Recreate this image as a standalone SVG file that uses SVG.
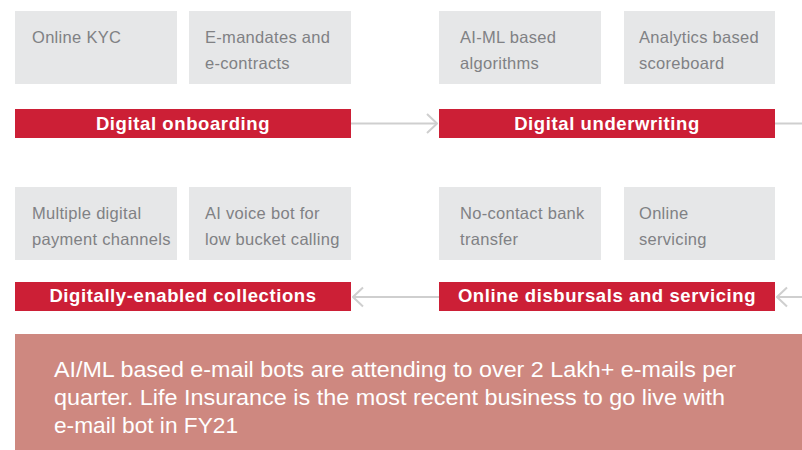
<svg xmlns="http://www.w3.org/2000/svg" width="802" height="450" viewBox="0 0 802 450">
  <style>
    .box { fill: #e6e7e8; }
    .box-text { font-family: "Liberation Sans", Arial, sans-serif; font-size: 16.5px; letter-spacing: 0.3px; fill: #808184; }
    .bar { fill: #cc1f36; }
    .bar-text { font-family: "Liberation Sans", Arial, sans-serif; font-size: 18.5px; font-weight: bold; fill: #ffffff; text-anchor: middle; letter-spacing: 0.6px; }
    .link { stroke: #cfcfcf; stroke-width: 2; fill: none; }
    .note { fill: #ce8880; }
    .note-text { font-family: "Liberation Sans", Arial, sans-serif; font-size: 22.5px; fill: #ffffff; }
  </style>
  <defs>
    <marker id="chev" viewBox="0 0 12 22" refX="11" refY="11" markerWidth="12" markerHeight="22" markerUnits="userSpaceOnUse" orient="auto">
      <path d="M1,1.5 L11,11 L1,20.5" fill="none" stroke="#cfcfcf" stroke-width="2"/>
    </marker>
  </defs>

  <rect width="802" height="450" fill="#ffffff"/>

  <!-- connectors between stages -->
  <g id="connectors">
    <line class="link" x1="351" y1="123.5" x2="437" y2="123.5" marker-end="url(#chev)"/>
    <line class="link" x1="775" y1="123.5" x2="802" y2="123.5"/>
    <line class="link" x1="802" y1="297" x2="777" y2="297" marker-end="url(#chev)"/>
    <line class="link" x1="439" y1="297" x2="353" y2="297" marker-end="url(#chev)"/>
  </g>

  <!-- stage 1 -->
  <g id="online-kyc">
    <rect class="box" x="15" y="11" width="162" height="73"/>
    <text class="box-text" x="32" y="43">Online KYC</text>
  </g>
  <g id="e-mandates">
    <rect class="box" x="189" y="11" width="162" height="73"/>
    <text class="box-text" x="205" y="43">E-mandates and</text>
    <text class="box-text" x="205" y="69">e-contracts</text>
  </g>
  <g id="digital-onboarding">
    <rect class="bar" x="15" y="109" width="336" height="29"/>
    <text class="bar-text" x="183" y="130">Digital onboarding</text>
  </g>

  <!-- stage 2 -->
  <g id="ai-ml-algorithms">
    <rect class="box" x="439" y="11" width="162" height="73"/>
    <text class="box-text" x="460" y="43">AI-ML based</text>
    <text class="box-text" x="460" y="69">algorithms</text>
  </g>
  <g id="analytics-scoreboard">
    <rect class="box" x="624" y="11" width="151" height="73"/>
    <text class="box-text" x="639" y="43">Analytics based</text>
    <text class="box-text" x="639" y="69">scoreboard</text>
  </g>
  <g id="digital-underwriting">
    <rect class="bar" x="439" y="109" width="336" height="29"/>
    <text class="bar-text" x="607" y="130">Digital underwriting</text>
  </g>

  <!-- stage 3 -->
  <g id="no-contact-transfer">
    <rect class="box" x="439" y="187" width="162" height="73"/>
    <text class="box-text" x="460" y="219">No-contact bank</text>
    <text class="box-text" x="460" y="245">transfer</text>
  </g>
  <g id="online-servicing">
    <rect class="box" x="624" y="187" width="151" height="73"/>
    <text class="box-text" x="639" y="219">Online</text>
    <text class="box-text" x="639" y="245">servicing</text>
  </g>
  <g id="online-disbursals">
    <rect class="bar" x="439" y="282" width="336" height="29"/>
    <text class="bar-text" x="607" y="302">Online disbursals and servicing</text>
  </g>

  <!-- stage 4 -->
  <g id="payment-channels">
    <rect class="box" x="15" y="187" width="162" height="73"/>
    <text class="box-text" x="32" y="219">Multiple digital</text>
    <text class="box-text" x="32" y="245">payment channels</text>
  </g>
  <g id="voice-bot">
    <rect class="box" x="189" y="187" width="162" height="73"/>
    <text class="box-text" x="205" y="219">AI voice bot for</text>
    <text class="box-text" x="205" y="245">low bucket calling</text>
  </g>
  <g id="digital-collections">
    <rect class="bar" x="15" y="282" width="336" height="29"/>
    <text class="bar-text" x="183" y="302">Digitally-enabled collections</text>
  </g>

  <!-- highlight note -->
  <g id="email-bots-note">
    <rect class="note" x="15" y="334" width="787" height="116"/>
    <text class="note-text" x="54" y="377" textLength="682" lengthAdjust="spacingAndGlyphs">AI/ML based e-mail bots are attending to over 2 Lakh+ e-mails per</text>
    <text class="note-text" x="54" y="405" textLength="671" lengthAdjust="spacingAndGlyphs">quarter. Life Insurance is the most recent business to go live with</text>
    <text class="note-text" x="54" y="433" textLength="184" lengthAdjust="spacingAndGlyphs">e-mail bot in FY21</text>
  </g>
</svg>
